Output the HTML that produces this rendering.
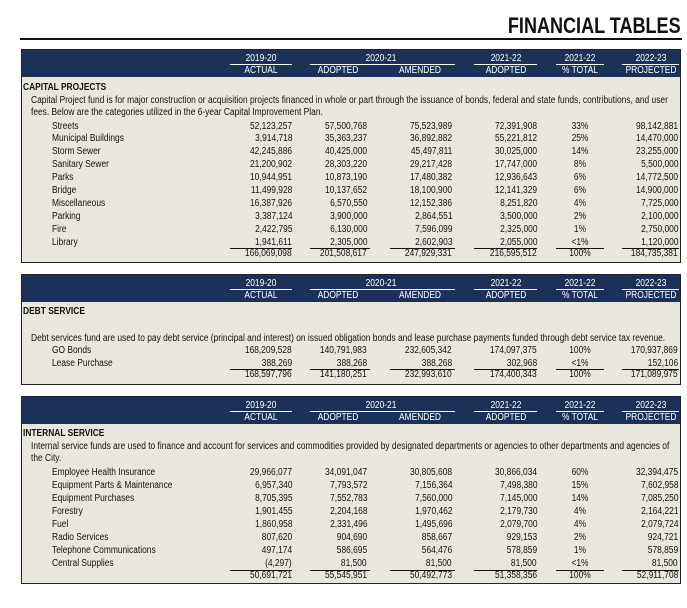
<!DOCTYPE html>
<html><head><meta charset="utf-8">
<style>
body{margin:0;width:687px;height:608px;background:#fff;position:relative;overflow:hidden;font-family:"Liberation Sans",sans-serif;font-size:10px;color:#111}
.a{position:absolute;white-space:nowrap;line-height:11px}
.box{position:absolute;left:21px;width:660px;box-sizing:border-box;background:#e9e7dd;border:1.5px solid #222}
.hdr{position:absolute;left:0;top:0;width:100%;background:#1b3158}
.w{color:#fff}
.ln{position:absolute;height:1px;background:#111}
.wl{position:absolute;height:1px;background:#fff}
</style></head><body>
<div class="a" style="right:6px;top:14px;font-weight:bold;font-size:22px;line-height:24px;transform:scaleX(0.82);transform-origin:right center">FINANCIAL TABLES</div>
<div style="position:absolute;left:20px;top:38px;width:662px;height:2px;background:#111"></div>
<div id="root"></div>
<script>
// column geometry (not data)
var colRight=[292,367,452,537,580,678];
var colAlign=['r','r','r','r','c','r'];
var ulRange=[[230,292],[310,370],[390,455],[474,537],[556,604],[622,679]];

var capItems=["Streets","Municipal Buildings","Storm Sewer","Sanitary Sewer","Parks","Bridge","Miscellaneous","Parking","Fire","Library"];
var capActual=["52,123,257","3,914,718","42,245,886","21,200,902","10,944,951","11,499,928","16,387,926","3,387,124","2,422,795","1,941,611"];
var capAdopted=["57,500,768","35,363,237","40,425,000","28,303,220","10,873,190","10,137,652","6,570,550","3,900,000","6,130,000","2,305,000"];
var capAmended=["75,523,989","36,892,882","45,497,811","29,217,428","17,480,382","18,100,900","12,152,386","2,864,551","7,596,099","2,602,903"];
var capAdopted22=["72,391,908","55,221,812","30,025,000","17,747,000","12,936,643","12,141,329","8,251,820","3,500,000","2,325,000","2,055,000"];
var capPct=["33%","25%","14%","8%","6%","6%","4%","2%","1%","<1%"];
var capProj=["98,142,881","14,470,000","23,255,000","5,500,000","14,772,500","14,900,000","7,725,000","2,100,000","2,750,000","1,120,000"];
var capTotal=["166,069,098","201,508,617","247,929,331","216,595,512","100%","184,735,381"];

var debtItems=["GO Bonds","Lease Purchase"];
var debtActual=["168,209,528","388,269"];
var debtAdopted=["140,791,983","388,268"];
var debtAmended=["232,605,342","388,268"];
var debtAdopted22=["174,097,375","302,968"];
var debtPct=["100%","<1%"];
var debtProj=["170,937,869","152,106"];
var debtTotal=["168,597,796","141,180,251","232,993,610","174,400,343","100%","171,089,975"];

var intItems=["Employee Health Insurance","Equipment Parts & Maintenance","Equipment Purchases","Forestry","Fuel","Radio Services","Telephone Communications","Central Supplies"];
var intActual=["29,966,077","6,957,340","8,705,395","1,901,455","1,860,958","807,620","497,174","(4,297)"];
var intAdopted=["34,091,047","7,793,572","7,552,783","2,204,168","2,331,496","904,690","586,695","81,500"];
var intAmended=["30,805,608","7,156,364","7,560,000","1,970,462","1,495,696","858,667","564,476","81,500"];
var intAdopted22=["30,866,034","7,498,380","7,145,000","2,179,730","2,079,700","929,153","578,859","81,500"];
var intPct=["60%","15%","14%","4%","4%","2%","1%","<1%"];
var intProj=["32,394,475","7,602,958","7,085,250","2,164,221","2,079,724","924,721","578,859","81,500"];
var intTotal=["50,691,721","55,545,951","50,492,773","51,358,356","100%","52,911,708"];

var root=document.getElementById('root');
function txt(t,x,y,cls,name,align,extra){
  var d=document.createElement('div');
  d.className='a '+(cls||'');
  d.textContent=t;
  
  
  if(align==='r'){d.style.right=(687-x)+'px';d.style.transformOrigin='right center';}
  else if(align==='c'){d.style.left=(x-40)+'px';d.style.width='80px';d.style.textAlign='center';d.style.transformOrigin='center center';}
  else {d.style.left=x+'px';d.style.transformOrigin='left center';}
  d.style.transform='scaleX(0.84)';
  d.style.top=y+'px';
  if(extra)for(var k in extra)d.style[k]=extra[k];
  root.appendChild(d);return d;
}
function line(x1,x2,y,cls,name){
  var d=document.createElement('div');d.className=cls;
  
  
  d.style.left=x1+'px';d.style.width=(x2-x1)+'px';d.style.top=y+'px';root.appendChild(d);
}
function section(top,bottom,key,title,titleY,descLines,descY,itemX,items,cols,total,rowY0,rowH){
  var b=document.createElement('div');b.className='box';
  
  
  b.style.top=top+'px';b.style.height=(bottom-top)+'px';
  var h=document.createElement('div');h.className='hdr';h.style.height='27px';
  
  
  b.appendChild(h);root.appendChild(b);
  var yrs=[["2019-20",261],["2020-21",381],["2021-22",506],["2021-22",580],["2022-23",651]];
  yrs.forEach(function(yv){txt(yv[0],yv[1],top+4,'w','header-year','c');});
  var labs=["ACTUAL","ADOPTED","AMENDED","ADOPTED","% TOTAL","PROJECTED"];
  var cen=[261,338,420,506,580,651];
  labs.forEach(function(l,i){txt(l,cen[i],top+16,'w','header-label','c');});
  [[230,292],[310,455],[474,537],[556,604],[622,679]].forEach(function(r){line(r[0],r[1],top+15,'wl','header-underline');});
  txt(title,23,titleY,'','section-title',null,{fontWeight:'bold'});
  descLines.forEach(function(l,i){txt(l,31,descY+i*12,'','section-description');});
  items.forEach(function(it,i){
    var y=rowY0+i*rowH;
    txt(it,itemX,y,'','row-label');
    cols.forEach(function(c,j){txt(c[i],colRight[j],y,'','cell-value',colAlign[j]);});
  });
  var ty=rowY0+items.length*rowH-1.5;
  ulRange.forEach(function(r){line(r[0],r[1],ty,'ln','total-underline');});
  total.forEach(function(v,j){txt(v,colRight[j],ty,'','total-value',colAlign[j]);});
}
section(49,263,'capital','CAPITAL PROJECTS',82,
 ["Capital Project fund is for major construction or acquisition projects financed in whole or part through the issuance of bonds, federal and state funds, contributions, and user","fees.  Below are the categories utilized in the 6-year Capital Improvement Plan."],
 95,52,capItems,[capActual,capAdopted,capAmended,capAdopted22,capPct,capProj],capTotal,120.5,12.9);
section(274,385,'debt','DEBT SERVICE',306,
 ["Debt services fund are used to pay debt service (principal and interest) on issued obligation bonds and lease purchase payments funded through debt service tax revenue."],
 333,52,debtItems,[debtActual,debtAdopted,debtAmended,debtAdopted22,debtPct,debtProj],debtTotal,344.5,13);
section(396,584,'internal','INTERNAL SERVICE',428,
 ["Internal service funds are used to finance and account for services and commodities provided by designated departments or agencies to other departments and agencies of","the City."],
 441,52,intItems,[intActual,intAdopted,intAmended,intAdopted22,intPct,intProj],intTotal,467,13);
</script>
</body></html>
